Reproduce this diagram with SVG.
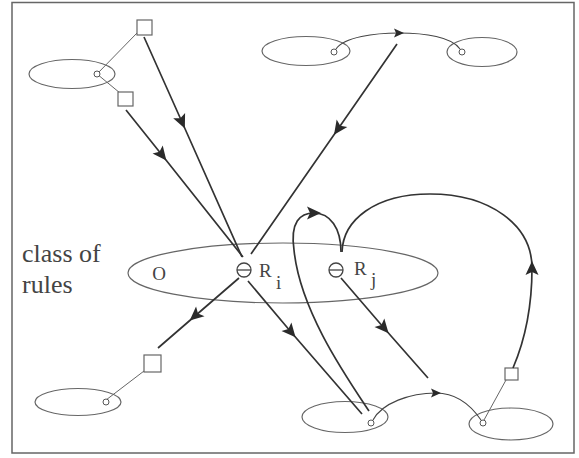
<svg xmlns="http://www.w3.org/2000/svg" width="579" height="458" viewBox="0 0 579 458">
<defs>
<marker id="a" viewBox="-8 -7 16 14" markerWidth="16" markerHeight="14" markerUnits="userSpaceOnUse" orient="auto">
<path d="M7,0 L-7,-6.5 L-4,0 L-7,6.5 z" fill="#2a2a2a"/>
</marker>
<marker id="s" viewBox="-6 -5 12 10" markerWidth="12" markerHeight="10" markerUnits="userSpaceOnUse" orient="auto">
<path d="M5,0 L-5,-4.5 L-3,0 L-5,4.5 z" fill="#2a2a2a"/>
</marker>
<style>
.frame{fill:none;stroke:#666;stroke-width:1.5}
.ell{fill:none;stroke:#666;stroke-width:1.2}
.dot{fill:#fff;stroke:#555;stroke-width:1}
.sq{fill:#fff;stroke:#666;stroke-width:1.2}
.thin{fill:none;stroke:#666;stroke-width:1}
.arr{fill:none;stroke:#333;stroke-width:1.7;marker-mid:url(#a)}
.pl{fill:none;stroke:#333;stroke-width:1.7}
.lnk{fill:none;stroke:#444;stroke-width:1.1;marker-mid:url(#s)}
.lbl{font-family:"Liberation Serif",serif;fill:#444}
.rs{fill:#fff;stroke:#444;stroke-width:1.3}
</style>
</defs>
<rect class="frame" x="12" y="2.5" width="562" height="450.5"/>

<g id="label">
<text class="lbl" x="22" y="262" font-size="26">class of</text>
<text class="lbl" x="22" y="293" font-size="26">rules</text>
</g>

<g id="class-of-rules">
<ellipse class="ell" cx="283" cy="273" rx="155" ry="30"/>
<text class="lbl" x="159" y="280" font-size="19" text-anchor="middle">O</text>
</g>

<g id="Ri">
<circle class="rs" cx="244" cy="270" r="7"/>
<line x1="237" y1="270" x2="251" y2="270" stroke="#444" stroke-width="1.3"/>
<text class="lbl" x="259" y="277" font-size="19">R</text>
<text class="lbl" x="276" y="289" font-size="19">i</text>
</g>

<g id="Rj">
<circle class="rs" cx="336" cy="270" r="7"/>
<line x1="329" y1="270" x2="343" y2="270" stroke="#444" stroke-width="1.3"/>
<text class="lbl" x="354" y="275" font-size="19">R</text>
<text class="lbl" x="371" y="286" font-size="19">j</text>
</g>

<g id="obj-topleft">
<ellipse class="ell" cx="72" cy="74" rx="43" ry="14.5"/>
<line class="thin" x1="137" y1="33" x2="97" y2="74"/>
<line class="thin" x1="97" y1="74" x2="120" y2="93"/>
<circle class="dot" cx="97" cy="74" r="3"/>
<rect class="sq" x="137" y="20" width="15" height="15"/>
<rect class="sq" x="118" y="92" width="15" height="14"/>
</g>

<g id="obj-top1">
<ellipse class="ell" cx="306" cy="51" rx="44" ry="14.5"/>
<circle class="dot" cx="334" cy="52" r="3"/>
</g>
<g id="obj-top2">
<ellipse class="ell" cx="482" cy="52" rx="35" ry="14.5"/>
<circle class="dot" cx="462" cy="52" r="3"/>
</g>

<g id="obj-bottomleft">
<ellipse class="ell" cx="78" cy="402" rx="43" ry="13.5"/>
<line class="thin" x1="144" y1="371" x2="106" y2="400"/>
<circle class="dot" cx="106" cy="402" r="3"/>
<rect class="sq" x="144" y="355" width="17" height="17"/>
</g>

<g id="obj-bottomcenter">
<ellipse class="ell" cx="345" cy="417" rx="43" ry="15.5"/>
<circle class="dot" cx="371" cy="423" r="3"/>
</g>

<g id="obj-bottomright">
<ellipse class="ell" cx="511" cy="424" rx="42" ry="16"/>
<line class="thin" x1="506" y1="380" x2="484" y2="420"/>
<circle class="dot" cx="483" cy="423" r="3"/>
<rect class="sq" x="505" y="368" width="13" height="12"/>
</g>

<g id="connectors">
<path class="lnk" d="M336,49 C344,37 375,33 399,33 C425,33 452,37 460,49"/>
<path class="lnk" d="M373,420 C382,403 410,393 436,393 C455,393 470,404 481,420"/>
<path class="arr" d="M144,37 L182,122 L242,257"/>
<path class="arr" d="M126,110 L162,155 L243,257"/>
<path class="arr" d="M397,44 L338,129 L251,254"/>
<path class="arr" d="M239,278 L195,316 L158,348"/>
<path class="arr" d="M248,281 L291,332 L362,414"/>
<path class="arr" d="M341,278 L384,328 L428,378"/>
<path class="pl" d="M369,411 C345,375 300,310 294,250"/>
<path class="arr" d="M294,250 C290,222 300,213 314,213 C330,213 341,228 341,252"/>
<path class="arr" d="M513,368 C525,340 532,310 532,268 C532,225 490,194 430,194"/>
<path class="pl" d="M430,194 C375,194 343,220 342,252"/>
</g>
</svg>
